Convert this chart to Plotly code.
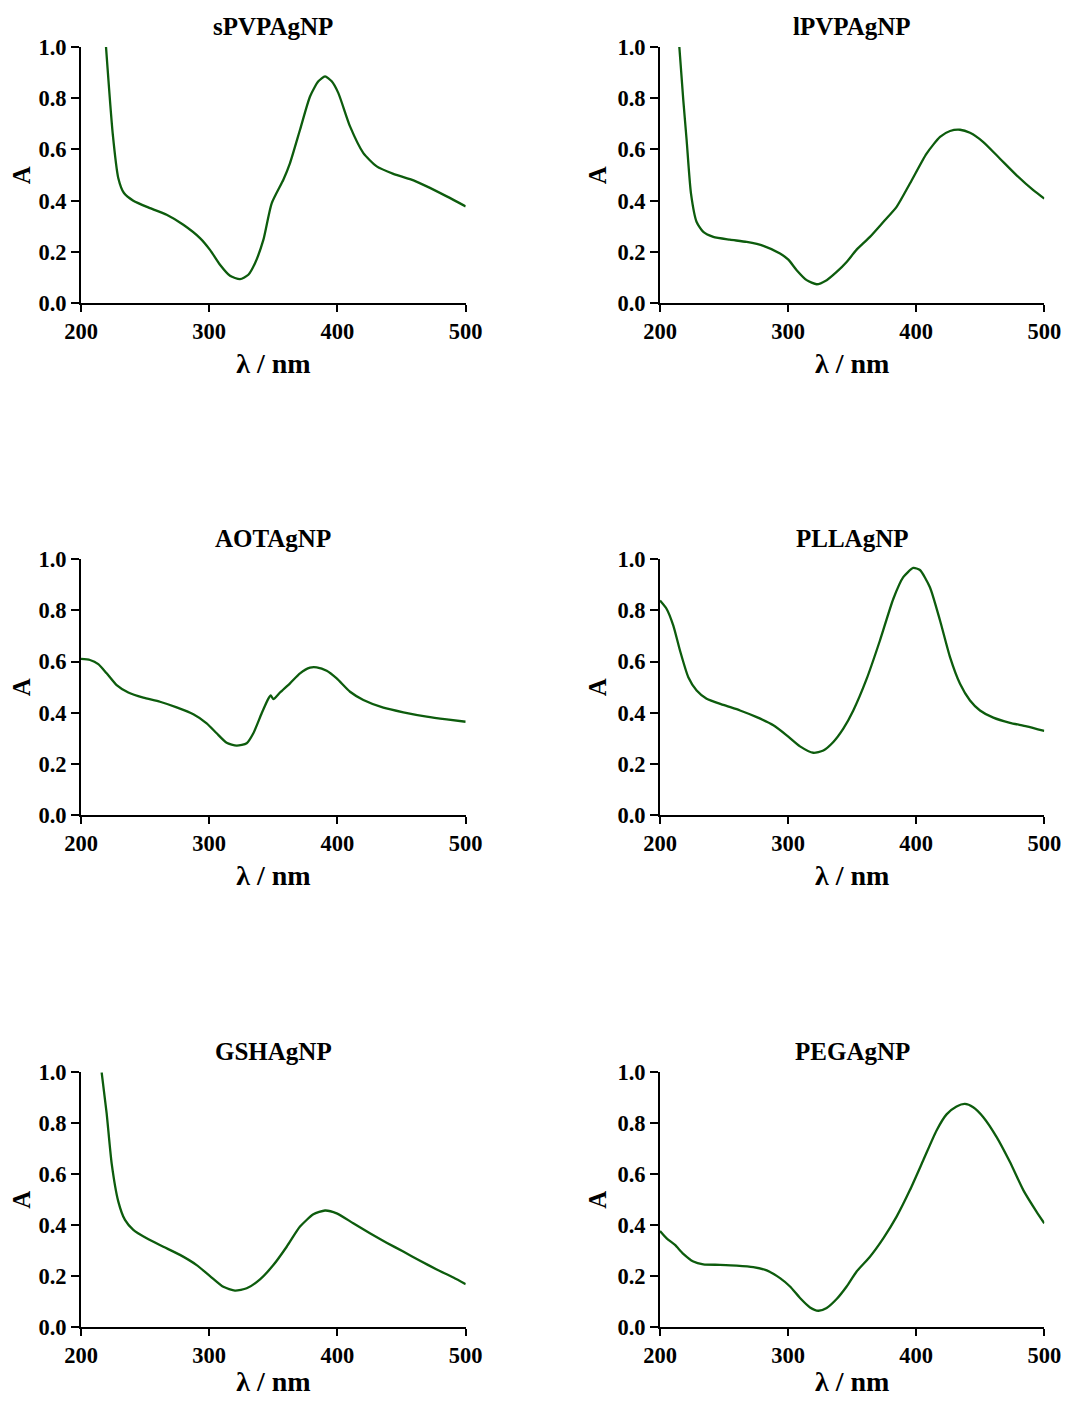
import plotly.graph_objects as go

# ---------------- data ----------------
titles = ["sPVPAgNP", "lPVPAgNP", "AOTAgNP", "PLLAgNP", "GSHAgNP", "PEGAgNP"]

wl_spvp = [219.5, 224.7, 229.1, 233.5, 240.8, 253.8, 266.8, 279.8, 292.8, 300.6, 308.4, 316.2, 324.0,
           330.5, 335.7, 342.2, 348.7, 357.8, 363.0, 370.8, 378.6, 385.1, 390.3, 395.5, 400.7, 409.8,
           420.2, 430.6, 443.6, 456.6, 469.6, 485.2, 500.0]
a_spvp = [1.0, 0.664, 0.488, 0.43, 0.40, 0.371, 0.345, 0.306, 0.254, 0.208, 0.150, 0.107, 0.094,
          0.111, 0.156, 0.247, 0.39, 0.482, 0.547, 0.677, 0.807, 0.866, 0.885, 0.866, 0.82, 0.69,
          0.586, 0.534, 0.505, 0.484, 0.456, 0.417, 0.378]

wl_lpvp = [215.1, 218.2, 220.8, 224.2, 228.6, 233.8, 241.6, 254.6, 267.7, 280.7, 293.7, 300.2, 306.7,
           314.5, 322.3, 330.1, 337.9, 345.7, 353.5, 363.9, 374.3, 384.7, 395.1, 408.1, 418.6, 426.4,
           434.2, 442.0, 452.4, 465.4, 478.4, 491.4, 500.0]
a_lpvp = [1.0, 0.792, 0.636, 0.428, 0.317, 0.278, 0.259, 0.248, 0.239, 0.224, 0.194, 0.170, 0.129,
          0.090, 0.074, 0.090, 0.122, 0.161, 0.209, 0.259, 0.317, 0.376, 0.467, 0.584, 0.649, 0.672,
          0.677, 0.665, 0.629, 0.564, 0.499, 0.441, 0.408]

wl_aot = [200.0, 207.0, 213.5, 220.0, 227.8, 236.9, 248.6, 261.6, 274.6, 287.6, 298.0, 305.8, 313.6,
          321.4, 329.2, 334.4, 340.9, 346.1, 347.9, 350.0, 355.2, 363.0, 370.8, 378.6, 383.8, 391.6,
          399.4, 409.8, 420.2, 435.8, 451.4, 469.6, 485.2, 500.0]
a_aot = [0.61, 0.606, 0.59, 0.554, 0.508, 0.479, 0.459, 0.443, 0.421, 0.394, 0.359, 0.32, 0.283,
         0.272, 0.281, 0.32, 0.398, 0.455, 0.468, 0.453, 0.479, 0.515, 0.554, 0.576, 0.577, 0.564,
         0.534, 0.482, 0.45, 0.42, 0.402, 0.385, 0.374, 0.365]

wl_pll = [200.0, 205.2, 210.4, 215.6, 222.1, 228.6, 236.4, 249.4, 262.5, 275.5, 288.5, 298.9, 309.3,
          319.7, 327.5, 335.3, 343.1, 350.9, 361.3, 371.7, 382.1, 389.9, 397.7, 402.9, 410.7, 418.6,
          426.4, 434.2, 442.0, 449.8, 460.2, 473.2, 486.2, 500.0]
a_pll = [0.838, 0.805, 0.74, 0.643, 0.539, 0.487, 0.455, 0.431, 0.409, 0.383, 0.351, 0.312, 0.269,
         0.244, 0.253, 0.286, 0.338, 0.409, 0.532, 0.682, 0.844, 0.929, 0.965, 0.957, 0.89, 0.76,
         0.617, 0.513, 0.448, 0.409, 0.381, 0.361, 0.347, 0.329]

wl_gsh = [216.1, 220.0, 223.9, 229.1, 234.3, 240.8, 251.2, 264.2, 277.2, 290.2, 300.6, 311.0, 320.1,
          329.2, 339.6, 350.0, 360.4, 370.8, 381.2, 390.3, 399.4, 412.3, 425.3, 438.3, 451.3, 464.4,
          477.4, 490.4, 500.0]
a_gsh = [1.0, 0.839, 0.643, 0.493, 0.421, 0.382, 0.349, 0.316, 0.284, 0.244, 0.201, 0.159, 0.144,
         0.153, 0.188, 0.244, 0.316, 0.395, 0.443, 0.458, 0.447, 0.408, 0.369, 0.332, 0.297, 0.261,
         0.227, 0.195, 0.169]

wl_peg = [200.0, 205.2, 211.7, 218.2, 226.0, 233.8, 246.8, 259.8, 272.8, 283.3, 293.7, 301.5, 309.3,
          317.1, 323.6, 330.1, 337.9, 345.7, 353.5, 363.9, 374.3, 384.7, 395.1, 405.5, 415.9, 423.7,
          431.5, 438.0, 444.5, 452.4, 462.8, 473.2, 483.6, 494.0, 500.0]
a_peg = [0.378, 0.349, 0.323, 0.288, 0.258, 0.247, 0.245, 0.242, 0.236, 0.223, 0.193, 0.16, 0.115,
         0.078, 0.065, 0.076, 0.111, 0.16, 0.219, 0.277, 0.349, 0.434, 0.538, 0.655, 0.772, 0.835,
         0.866, 0.876, 0.863, 0.824, 0.746, 0.648, 0.538, 0.453, 0.408]

x_ticks = [200, 300, 400, 500]
y_ticks = [0.0, 0.2, 0.4, 0.6, 0.8, 1.0]
x_title = "λ / nm"
y_title = "A"

series = [(wl_spvp, a_spvp), (wl_lpvp, a_lpvp), (wl_aot, a_aot),
          (wl_pll, a_pll), (wl_gsh, a_gsh), (wl_peg, a_peg)]

# ---------------- layout ----------------
# the page has an 8px body margin, so the figure is drawn 8px in from the window edge
OFF = 8
W, H = 1069 - 2 * OFF, 1405 - 2 * OFF
col_px = [(81 - OFF, 465.7 - OFF), (660 - OFF, 1044.3 - OFF)]
row_px = [(47 - OFF, 303.2 - OFF), (559 - OFF, 815.3 - OFF), (1072.3 - OFF, 1327.3 - OFF)]
FONT = "Liberation Serif"
LINE_COLOR = "#0d5c0d"

fig = go.Figure()
annotations = []
layout_axes = {}

for i, (title, (xs, ys)) in enumerate(zip(titles, series)):
    r, c = divmod(i, 2)
    n = i + 1
    xa = "x" if n == 1 else f"x{n}"
    ya = "y" if n == 1 else f"y{n}"
    fig.add_trace(go.Scatter(x=xs, y=ys, mode="lines", xaxis=xa, yaxis=ya,
                             line=dict(color=LINE_COLOR, width=2.3, shape="spline", smoothing=0.6),
                             showlegend=False, hoverinfo="x+y"))
    x0, x1 = col_px[c]
    t, b = row_px[r]
    xdom = [x0 / W, x1 / W]
    ydom = [1 - b / H, 1 - t / H]
    common_tick = dict(family=FONT, size=22.5, color="black", weight="bold")
    layout_axes[f"xaxis{'' if n == 1 else n}"] = dict(
        domain=xdom, anchor=ya, range=[200, 500], tickvals=x_ticks, automargin=False,
        ticklabeloverflow="allow",
        ticks="outside", ticklen=7, tickwidth=2, tickcolor="black",
        showline=True, linewidth=2, linecolor="black", showgrid=False, zeroline=False,
        tickfont=common_tick,
        title=dict(text=x_title, font=dict(family=FONT, size=28, color="black", weight="bold"),
                   standoff=10),
    )
    layout_axes[f"yaxis{'' if n == 1 else n}"] = dict(
        domain=ydom, anchor=xa, range=[0, 1.0], tickvals=y_ticks, tickformat=".1f",
        automargin=False, ticklabeloverflow="allow",
        ticks="outside", ticklen=8, tickwidth=2, tickcolor="black",
        showline=True, linewidth=2, linecolor="black", showgrid=False, zeroline=False,
        tickfont=common_tick,
        title=dict(text=y_title, font=dict(family=FONT, size=25, color="black", weight="bold"),
                   standoff=4),
    )
    annotations.append(dict(text=f"<b>{title}</b>", xref="paper", yref="paper",
                            x=(xdom[0] + xdom[1]) / 2, y=ydom[1], xanchor="center",
                            yanchor="bottom", yshift=6, showarrow=False, borderpad=0,
                            font=dict(family=FONT, size=25, color="black")))

fig.update_layout(
    width=W, height=H,
    margin=dict(l=0, r=0, t=0, b=0, autoexpand=False),
    paper_bgcolor="white", plot_bgcolor="white",
    annotations=annotations,
    **layout_axes,
)

fig.write_html("out.html")
